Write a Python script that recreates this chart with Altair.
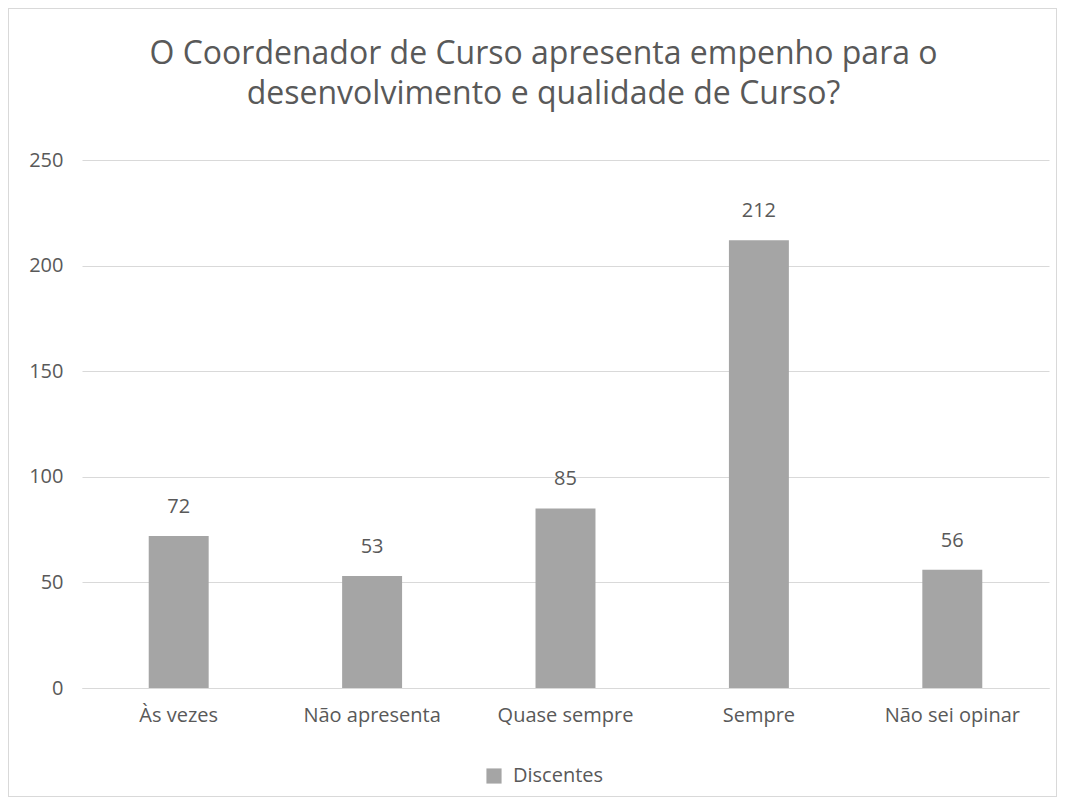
import altair as alt
import pandas as pd

categories = ["Às vezes", "Não apresenta", "Quase sempre", "Sempre", "Não sei opinar"]
values = [72, 53, 85, 212, 56]
series_name = "Discentes"
y_ticks = [0, 50, 100, 150, 200, 250]

df = pd.DataFrame({"categoria": categories, "valor": values, "serie": [series_name] * len(categories)})

FONT = "Open Sans"
TXT = "#595959"
BAR = "#A5A5A5"

x = alt.X("categoria:N", sort=categories, title=None,
          scale=alt.Scale(paddingInner=0.69, paddingOuter=0.345),
          axis=alt.Axis(labelAngle=0, labelFontSize=20, labelColor=TXT, labelFont=FONT,
                        domainColor="#D9D9D9", ticks=False, labelPadding=17))
y = alt.Y("valor:Q", title=None, scale=alt.Scale(domain=[0, 250], nice=False, zero=True),
          axis=alt.Axis(values=y_ticks, labelFontSize=20, labelColor=TXT, labelFont=FONT,
                        domain=False, ticks=False, gridColor="#D9D9D9", labelPadding=19))

base = alt.Chart(df).encode(x=x, y=y)

bars = base.mark_bar(color=BAR).encode(
    color=alt.Color("serie:N", scale=alt.Scale(range=[BAR]),
                    legend=alt.Legend(title=None, orient="none", legendX=402, legendY=606,
                                      symbolType="square", symbolSize=230, symbolStrokeWidth=0,
                                      labelFontSize=20, labelColor=TXT, labelFont=FONT,
                                      labelOffset=9)),
)
labels = base.mark_text(dy=-23, fontSize=20, color=TXT, font=FONT, baseline="alphabetic").encode(
    text="valor:Q")

frame = alt.Chart(df).mark_rect(fill=None, stroke="#D9D9D9", strokeWidth=1).encode(
    x=alt.value(-73.5), x2=alt.value(974.5), y=alt.value(-151.5), y2=alt.value(636.5))

chart = alt.layer(bars, labels, frame).properties(
    width=967, height=528,
    padding={"left": 74, "top": 152, "right": 8, "bottom": 109},
    autosize=alt.AutoSizeParams(type="none"),
    background="white",
    title=alt.TitleParams(["O Coordenador de Curso apresenta empenho para o",
                           "desenvolvimento e qualidade de Curso?"],
                          font=FONT, fontSize=32, fontWeight="normal", color=TXT,
                          lineHeight=40, anchor="middle", dx=-22, offset=0, dy=103),
).configure_view(strokeWidth=0, stroke="transparent")

chart.save("out.html", embed_options={"renderer": "svg", "actions": False})
